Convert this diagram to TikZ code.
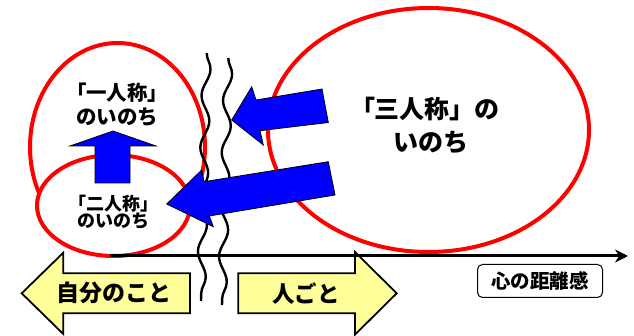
\documentclass[tikz,border=0pt]{standalone}
\usepackage{fontspec}
\setmainfont{Noto Sans CJK JP}
\newfontfamily\pf{Noto Sans CJK JP}[RawFeature=+palt]
\usetikzlibrary{shapes.geometric,decorations.pathmorphing,arrows.meta}
\definecolor{yellowfill}{HTML}{FFFF99}
\tikzset{
  redell/.style={ellipse, draw=red, line width=4pt, inner sep=0pt},
  bluearrow/.style={fill=blue, draw=black, line width=0.8pt, line join=miter},
  yelarrow/.style={fill=yellowfill, draw=black, line width=1.8pt, line join=miter},
  wave/.style={draw=black, line width=2.4pt, decorate, decoration={snake, amplitude=4.2pt, segment length=52pt}},
  lbl/.style={font=\bfseries, align=center, inner sep=0pt},
}
\begin{document}
\begin{tikzpicture}[x=1pt,y=-1pt]
\useasboundingbox (0,0) rectangle (634,336);
% ellipses
\node[redell, minimum width=175pt, minimum height=208pt] (first) at (117.5,147) {};
\node[redell, fill=white, minimum width=153pt, minimum height=101pt] (second) at (113.5,205.5) {};
\node[redell, minimum width=321pt, minimum height=244pt] (third) at (428.5,130) {};
% texts in ellipses
\node[lbl, font=\bfseries\fontsize{20.5}{24}\selectfont] (t1) at (117,104.5) {{\pf 「}一人称{\pf 」}\\のいのち};
\node[lbl, font=\bfseries\fontsize{18}{17}\selectfont] (t2) at (113.5,212) {{\pf 「}二人称{\pf 」}\\のいのち};
\node[lbl, font=\bfseries\fontsize{25}{33}\selectfont] (t3) at (431,125.3) {{\pf 「}三人称」の\\いのち};
% up arrow
\path[bluearrow] (113,131) -- (156,146) -- (130,146) -- (130,183) -- (95,183) -- (95,146) -- (70,146) -- cycle;
% yellow arrows
\path[yelarrow] (21.7,293.3) -- (63.3,252.7) -- (63.3,273.3) -- (190,273.3) -- (190,313.3) -- (63.3,313.3) -- (63.3,334) -- cycle;
\path[yelarrow] (238.3,273.3) -- (355,273.3) -- (355,252) -- (396.7,293.3) -- (355,334.6) -- (355,313.3) -- (238.3,313.3) -- cycle;
\node[lbl, font=\bfseries\fontsize{23}{23}\selectfont] (own) at (114,293.3) {自分のこと};
\node[lbl, font=\bfseries\fontsize{22.5}{23}\selectfont] (other) at (306,293.3) {人ごと};
% axis
\coordinate (ax0) at (110,256);
\coordinate (ax1) at (628,256);
\draw[line width=3pt, -{Stealth[length=13pt,width=13pt]}] (ax0) -- (ax1);
% waves
\coordinate (w1a) at (206.7,53);
\coordinate (w1b) at (201,301);
\coordinate (w2a) at (228.3,58);
\coordinate (w2b) at (222,305);
\draw[wave] (w1a) -- (w1b);
\draw[wave] (w2a) -- (w2b);
% blue arrows
\path[bluearrow] (231.7,120) -- (251.7,86.7) -- (256,100) -- (322,89) -- (328.3,122.5) -- (260,130.7) -- (263.3,145) -- cycle;
\path[bluearrow] (166.7,204) -- (201.7,170) -- (204,181.7) -- (328.3,161.7) -- (335,195) -- (209.3,216) -- (213.3,226.7) -- cycle;
% distance box
\node[draw=black, rounded corners=5pt, line width=1pt, minimum width=125pt, minimum height=33pt, font=\bfseries\fontsize{19.5}{19.5}\selectfont] (dist) at (540,281) {心の距離感};
\end{tikzpicture}
\end{document}
